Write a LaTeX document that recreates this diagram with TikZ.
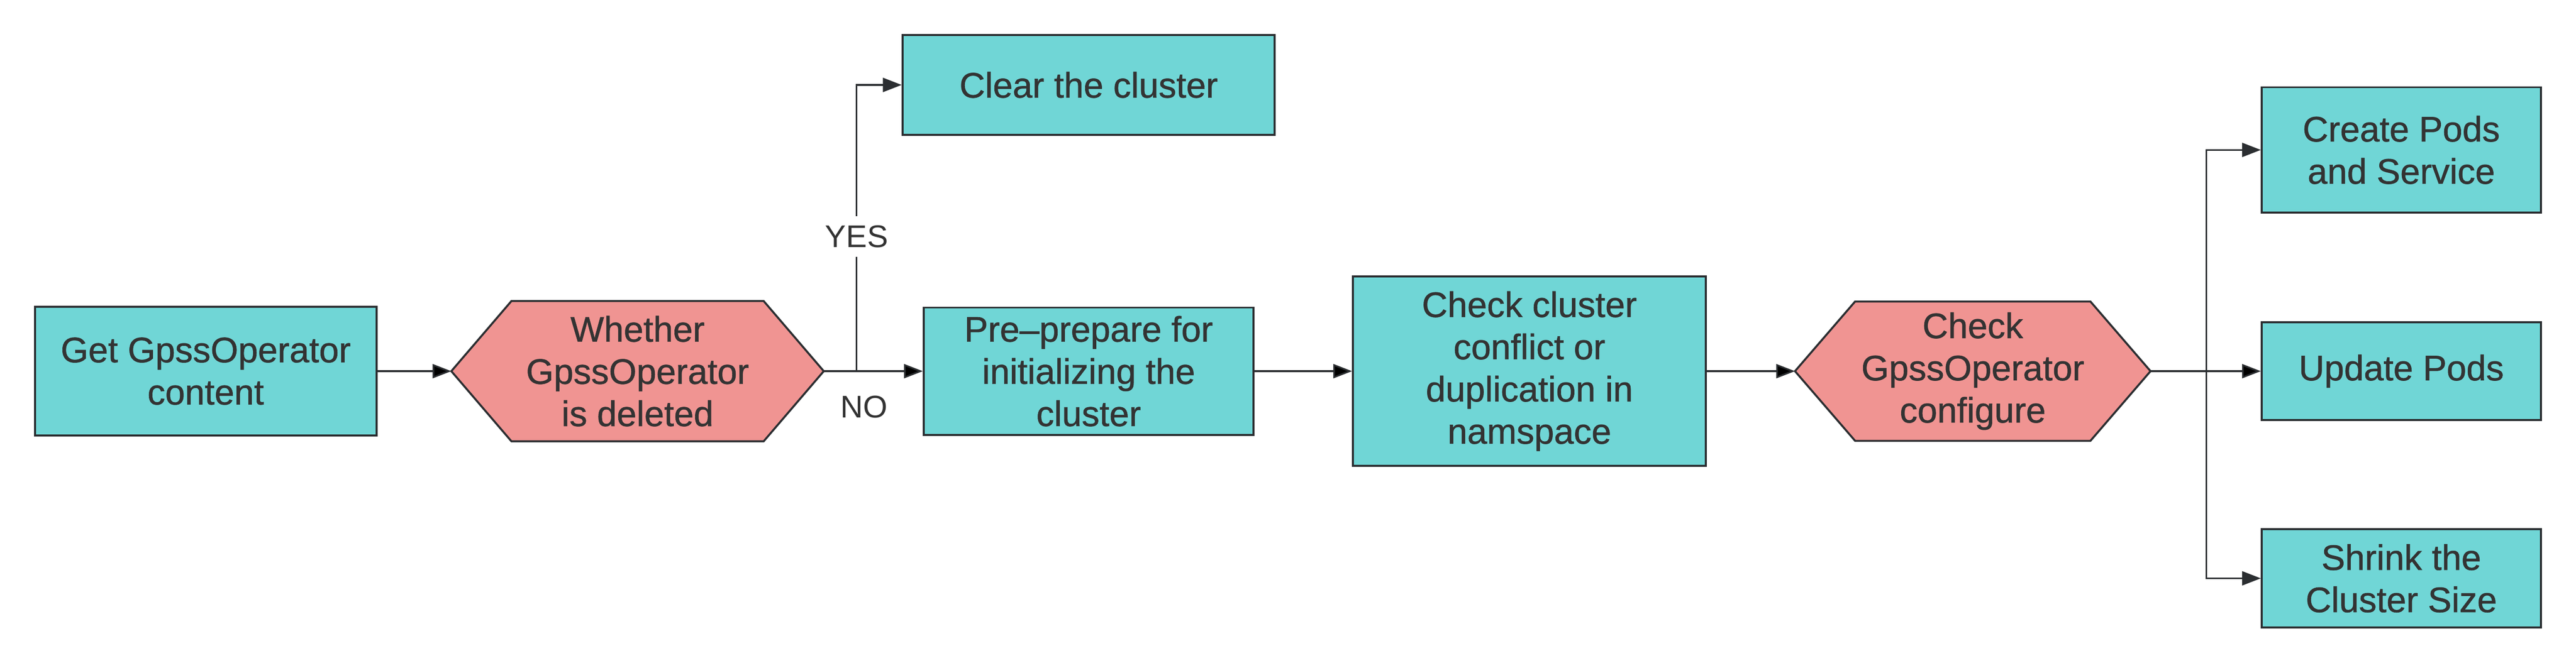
\documentclass[tikz,border=0pt]{standalone}
\usepackage{fontspec}
\setmainfont{Liberation Sans}
\newfontfamily\boxfont{Liberation Sans}[FakeBold=0.9]
\usepackage{xcolor}
\usepackage{tikz}
\usetikzlibrary{arrows.meta}
\usetikzlibrary{backgrounds}
\definecolor{boxteal}{HTML}{70D6D6}
\definecolor{hexpink}{HTML}{F09492}
\definecolor{edgegray}{HTML}{2B2E31}
\definecolor{txtgray}{HTML}{333333}

\begin{document}
\begin{tikzpicture}
               [box/.style = {draw=edgegray, line width=1.2pt, fill=boxteal, text=txtgray, align=center, inner sep=0pt, font=\boxfont\fontsize{21.5}{25.6}\selectfont},
                hex/.style = {inner sep=0pt, outer sep=0pt, align=center, text=txtgray, font=\boxfont\fontsize{21.5}{25.6}\selectfont},
                hexline/.style = {draw=edgegray, line width=1.2pt, fill=hexpink},
                lbl/.style = {fill=white, text=txtgray, inner sep=0.2cm, font=\fontsize{19}{22}\selectfont},
                arr/.style = {draw=edgegray, line width=1pt, -{Triangle[length=0.4cm,width=0.3cm]}}]
                \useasboundingbox (0,0) rectangle (54.85,-14.12);
                % Steps on the main line
                \node[box, minimum width=7.27cm, minimum height=2.74cm] (get) at (4.38,-7.91) {Get GpssOperator\\content};
                \node[hex, minimum width=7.93cm, minimum height=2.99cm] (whether) at (13.575,-7.91) {Whether\\GpssOperator\\is deleted};
                \node[box, minimum width=7.02cm, minimum height=2.71cm] (pre) at (23.18,-7.91) {Pre–prepare for\\initializing the\\cluster};
                \node[box, minimum width=7.51cm, minimum height=4.03cm] (check) at (32.565,-7.91) {Check cluster\\conflict or\\duplication in\\namspace};
                \node[hex, minimum width=7.57cm, minimum height=2.97cm] (config) at (42.005,-7.91) {Check\\GpssOperator\\configure};
                % Branch targets
                \node[box, minimum width=7.92cm, minimum height=2.12cm] (clear) at (23.18,-1.81) {Clear the cluster};
                \node[box, minimum width=5.94cm, minimum height=2.67cm] (create) at (51.13,-3.195) {Create Pods\\and Service};
                \node[box, minimum width=5.94cm, minimum height=2.08cm] (update) at (51.13,-7.91) {Update Pods};
                \node[box, minimum width=5.94cm, minimum height=2.09cm] (shrink) at (51.13,-12.325) {Shrink the\\Cluster Size};
                % Hexagons behind the decision texts
                \begin{scope}[on background layer]
                \foreach \h in {whether,config}
                    \draw[hexline] (\h.west) -- ([xshift=1.28cm]\h.north west) -- ([xshift=-1.28cm]\h.north east) -- (\h.east) -- ([xshift=-1.28cm]\h.south east) -- ([xshift=1.28cm]\h.south west) -- cycle;
                \end{scope}
                % Split points
                \coordinate (junc) at (18.24,-7.91);
                \coordinate (fork) at (46.98,-7.91);
                % Lines
                \path[arr] (get) edge (whether);
                \path[arr] (whether) edge (pre);
                \path[arr] (pre) edge (check);
                \path[arr] (check) edge (config);
                \path[arr] (config) edge (update);
                \draw[arr] (junc) |- (clear) node[lbl, pos=0.235] (yes) {YES};
                \draw[arr] (fork) |- (create);
                \draw[arr] (fork) |- (shrink);
                \node[lbl, fill=none] (no) at (18.40,-8.67) {NO};
            \end{tikzpicture}
\end{document}
